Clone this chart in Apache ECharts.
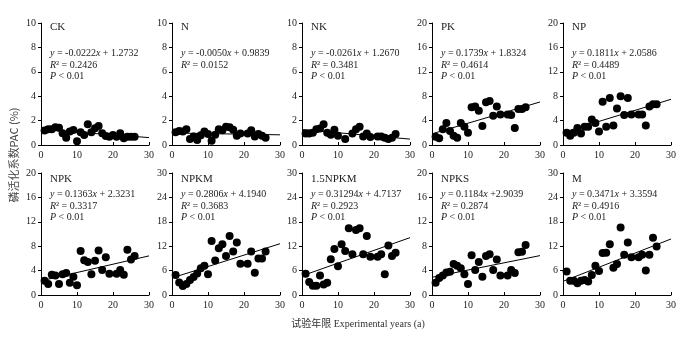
<!DOCTYPE html>
<html><head><meta charset="utf-8">
<script src="https://cdn.jsdelivr.net/npm/echarts@6/dist/echarts.min.js"></script>
<style>html,body{margin:0;padding:0;background:#fff}#c{width:700px;height:337px}</style>
</head><body><div id="c"></div>
<script>
// ---- data ----
const panelNames = ['CK','N','NK','PK','NP','NPK','NPKM','1.5NPKM','NPKS','M'];
const yMax  = [10,10,10,20,20,20,30,30,20,30];
const yStep = [2,2,2,4,4,4,6,6,4,6];
const slopes     = [-0.0222,-0.0050,-0.0261,0.1739,0.1811,0.1363,0.2806,0.31294,0.1184,0.3471];
const intercepts = [1.2732,0.9839,1.2670,1.8324,2.0586,2.3231,4.1940,4.7137,2.9039,3.3594];
const eqCoef  = ['-0.0222','-0.0050','-0.0261','0.1739','0.1811','0.1363','0.2806','0.31294','0.1184','0.3471'];
const eqConst = ['+ 1.2732','+ 0.9839','+ 1.2670','+ 1.8324','+ 2.0586','+ 2.3231','+ 4.1940','+ 4.7137','+2.9039','+ 3.3594'];
const r2Vals  = ['0.2426','0.0152','0.3481','0.4614','0.4489','0.3317','0.3683','0.2923','0.2874','0.4916'];
const pVals   = ['P < 0.01','','P < 0.01','P < 0.01','P < 0.01','P < 0.01','P < 0.01','P < 0.01','P < 0.01','P < 0.01'];

const yearsAll  = [1,2,3,4,5,6,7,8,9,10,11,12,13,14,15,16,17,18,19,20,21,22,23,24,25,26];
const yearsNo20 = [1,2,3,4,5,6,7,8,9,10,11,12,13,14,15,16,17,18,19,21,22,23,24,25,26];
const yearsNK   = [1,2,3,4,5,6,7,8,9,10,12,14,15,16,17,18,19,21,22,23,24,25,26];

const ckY   = [1.18,1.29,1.3,1.45,1.42,0.96,0.6,1.1,1.23,0.3,1.04,0.82,1.7,1.04,1.37,1.56,0.96,0.74,0.68,0.82,0.68,0.96,0.55,0.68,0.68,0.68];
const nY    = [1.05,1.15,1.1,1.3,0.5,0.7,0.4,0.8,1.1,0.9,0.35,0.85,1.3,1.2,1.5,1.45,1.25,0.75,0.95,0.95,1.2,0.7,0.9,0.75,0.6];
const nkY   = [0.95,0.95,1.0,1.3,1.35,1.7,1.0,0.85,1.25,0.75,0.5,0.95,1.3,1.5,0.7,0.95,0.65,0.7,0.7,0.6,0.5,0.6,0.9];
const pkY   = [1.37,1.1,2.6,3.6,2.3,1.5,1.2,3.6,3.0,2.0,6.2,6.3,5.6,3.1,7.0,7.2,4.8,6.3,5.0,5.0,4.9,2.8,5.9,5.9,6.2];
const npY   = [2.0,1.5,2.0,2.8,1.9,3.0,3.0,4.2,3.6,2.2,7.1,3.0,7.7,3.2,6.0,8.0,4.9,7.7,5.0,5.0,5.0,3.2,6.3,6.7,6.7];
const npkY  = [2.35,1.8,3.3,3.2,1.8,3.4,3.6,2.0,3.0,1.6,7.2,5.7,5.4,3.4,5.6,7.3,4.1,6.2,3.5,3.5,4.1,3.3,7.4,5.8,6.4];
const npkmY = [4.9,3.1,2.2,2.7,3.7,4.4,5.3,6.6,7.2,5.1,13.3,8.5,11.5,12.5,9.6,14.5,10.7,12.9,7.7,7.7,10.7,5.5,9.0,9.0,10.7];
const hnpkmY= [5.2,3.2,2.3,2.3,4.8,2.6,3.0,8.8,11.3,7.1,12.5,10.8,16.4,10.0,16.0,16.4,10.0,14.5,9.4,9.4,10.0,5.1,12.2,9.6,10.4];
const npksY = [2.0,2.8,3.2,3.7,3.8,5.1,4.8,4.4,3.4,1.8,6.5,4.1,5.4,3.0,6.4,6.7,4.1,5.8,3.2,3.2,4.1,3.6,7.0,7.1,8.2];
const mY    = [5.8,3.5,3.5,2.9,3.5,3.7,3.3,4.9,7.2,5.9,10.3,10.4,12.5,6.7,7.6,16.6,9.9,12.9,9.3,9.3,9.9,6.0,9.9,14.1,11.9];

const panelX = [yearsAll,yearsNo20,yearsNK,yearsNo20,yearsNo20,yearsNo20,yearsNo20,yearsNo20,yearsNo20,yearsNo20];
const panelY = [ckY,nY,nkY,pkY,npY,npkY,npkmY,hnpkmY,npksY,mY];

// ---- layout ----
const FONT = '"Liberation Serif","Times New Roman",serif';
const lefts = [41,172,302,432,563];
const tops = [23,173];
const W = 108, H = 122;
const txtColor = '#222';

const grid = [], xAxis = [], yAxis = [], series = [], graphic = [];
panelNames.forEach((name, i) => {
  const row = i < 5 ? 0 : 1, col = i % 5;
  const L = lefts[col], T = tops[row];
  grid.push({left: L, top: T, width: W, height: H});
  const axisCommon = {
    gridIndex: i, type: 'value', splitLine: {show: false},
    axisLine: {show: true, lineStyle: {color: '#000', width: 1}},
    axisLabel: {fontFamily: FONT, fontSize: 10, color: txtColor}
  };
  xAxis.push(Object.assign({}, axisCommon, {min: 0, max: 30, interval: 10,
    axisTick: {show: true, inside: true, length: 3, lineStyle: {color: '#000'}},
    axisLabel: Object.assign({}, axisCommon.axisLabel, {margin: 5})}));
  yAxis.push(Object.assign({}, axisCommon, {min: 0, max: yMax[i], interval: yStep[i],
    axisTick: {show: true, inside: false, length: 3, lineStyle: {color: '#000'}},
    axisLabel: Object.assign({}, axisCommon.axisLabel, {margin: 5})}));
  const pts = panelX[i].map((x, k) => [x, panelY[i][k]]);
  series.push({type: 'scatter', xAxisIndex: i, yAxisIndex: i, data: pts,
    symbolSize: 8, itemStyle: {color: '#000', opacity: 1}, silent: true});
  series.push({type: 'line', xAxisIndex: i, yAxisIndex: i, symbol: 'none', silent: true,
    data: [[0, intercepts[i]], [30, slopes[i] * 30 + intercepts[i]]],
    lineStyle: {color: '#000', width: 1}});
  const dx = 9;
  const offs = row === 0 ? [5.5, 31, 43, 54.5] : [7, 22.5, 34, 45.5];
  const rich = {i: {fontStyle: 'italic', fontFamily: FONT, fontSize: 10, fill: txtColor}};
  const mk = (text, yy, size) => ({type: 'text', left: L + dx, top: T + yy - (size || 10) / 2 - 1,
    style: {text: text, fontFamily: FONT, fontSize: size || 10, fill: txtColor, rich: rich}});
  graphic.push(mk(name, offs[0], 11));
  graphic.push(mk('{i|y} = ' + eqCoef[i] + '{i|x} ' + eqConst[i], offs[1]));
  graphic.push(mk('{i|R}² = ' + r2Vals[i], offs[2]));
  if (pVals[i]) graphic.push(mk('{i|P} < 0.01', offs[3]));
});

graphic.push({type: 'text', x: 14, y: 155, rotation: Math.PI / 2,
  style: {text: '磷活化系数PAC (%)', fontFamily: '"Noto Sans CJK SC", ' + FONT, fontSize: 11, fill: '#444',
    align: 'center', verticalAlign: 'middle'}});
graphic.push({type: 'text', x: 358, y: 324,
  style: {text: '试验年限 Experimental years (a)', fontFamily: FONT + ', "Noto Sans CJK SC"', fontSize: 10, fill: '#333',
    align: 'center', verticalAlign: 'middle'}});

const chart = echarts.init(document.getElementById('c'), null, {renderer: 'canvas'});
chart.setOption({animation: false, backgroundColor: '#fff', grid, xAxis, yAxis, series, graphic});
</script></body></html>
